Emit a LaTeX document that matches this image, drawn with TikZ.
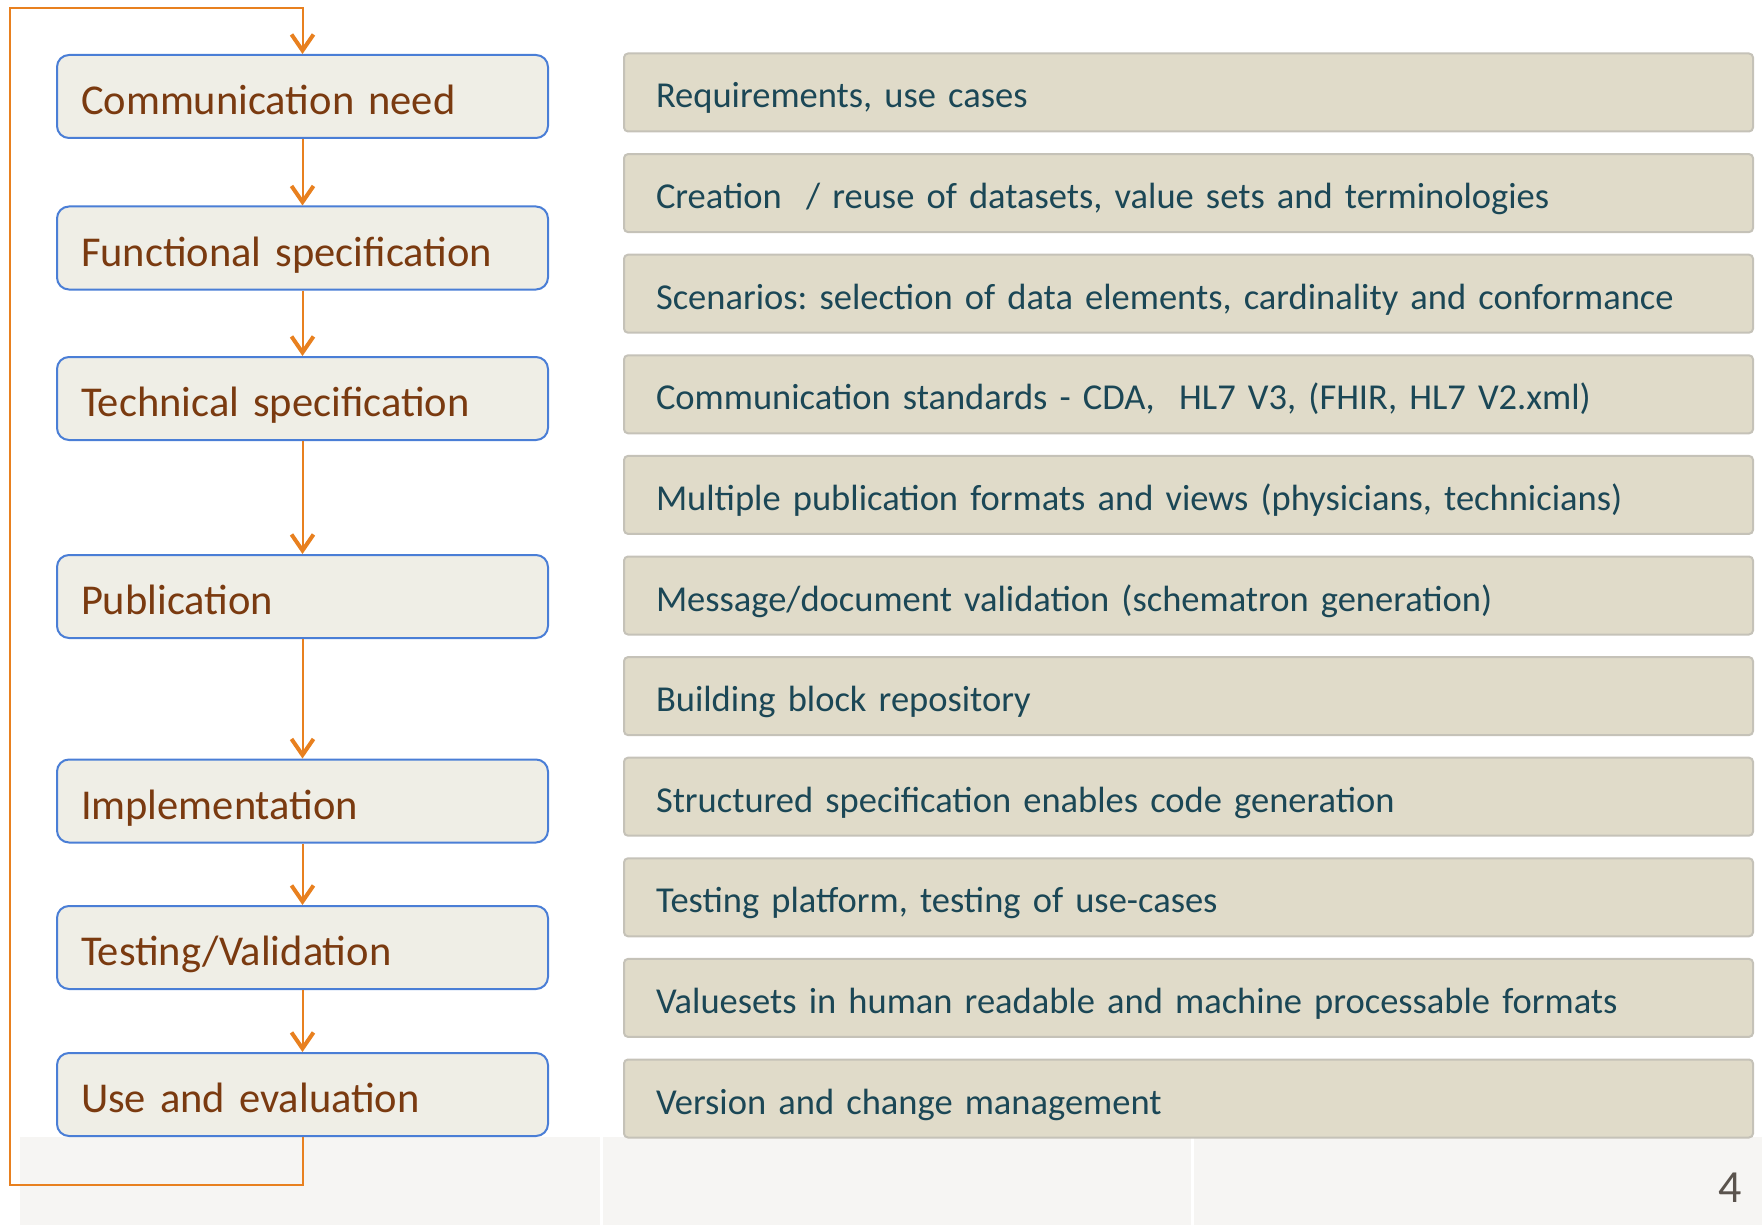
\documentclass[tikz,border=0pt]{standalone}
\usepackage{fontspec}
\usepackage{tikz}
\usepackage{xcolor}
\usetikzlibrary{arrows.meta}
\setmainfont{Carlito}
\frenchspacing

\definecolor{stagefill}{HTML}{EFEEE6}
\definecolor{stageline}{HTML}{4A7ED6}
\definecolor{stagetext}{HTML}{7A3A10}
\definecolor{taskfill}{HTML}{E0DBC9}
\definecolor{taskline}{HTML}{C5C2B8}
\definecolor{tasktext}{HTML}{1B4756}
\definecolor{flowcol}{HTML}{E8801F}
\definecolor{footfill}{HTML}{F6F5F3}
\definecolor{pagetext}{HTML}{5A534D}

\begin{document}
\begin{tikzpicture}[
    x=1pt, y=-1pt,
    stage/.style={rectangle, rounded corners=12pt, draw=stageline, line width=2pt, fill=stagefill,
        minimum width=491pt, minimum height=83pt, inner xsep=24pt, text width=443pt, align=left,
        text height=36pt, text depth=0pt, text=stagetext, font=\fontsize{42.5}{50}\selectfont},
    task/.style={rectangle, rounded corners=4pt, draw=taskline, line width=2pt, fill=taskfill,
        minimum width=1129pt, minimum height=78pt, inner xsep=32pt, text width=1065pt, align=left,
        text height=31pt, text depth=0pt, text=tasktext, font=\fontsize{36.5}{44}\selectfont},
    flow/.style={draw=flowcol, line width=2pt, -{Straight Barb[length=16pt, width=22pt, line width=4pt]}}
]
    \useasboundingbox (0,0) rectangle (1762,1225);

    % Footer band
    \fill[footfill] (20,1137) rectangle (600,1225);
    \fill[footfill] (603,1137) rectangle (1191,1225);
    \fill[footfill] (1194,1137) rectangle (1762,1225);
    \node[text=pagetext, font=\fontsize{46}{52}\selectfont] (pagenum) at (1730,1188) {4};

    % Process stages (left)
    \node[stage] (need) at (302.5,96.5) {Communication need};
    \node[stage] (func) at (302.5,248) {Functional specification};
    \node[stage] (tech) at (302.5,398.5) {Technical specification};
    \node[stage] (publ) at (302.5,596.5) {Publication};
    \node[stage] (impl) at (302.5,801) {Implementation};
    \node[stage] (test) at (302.5,947.5) {Testing/Validation};
    \node[stage] (use) at (302.5,1094.5) {Use and evaluation};

    % Supported tasks (right)
    \node[task] (req) at (1188.5,92.5) {Requirements, use cases};
    \node[task] (data) at (1188.5,193.1) {Creation~ / reuse of datasets, value sets and terminologies};
    \node[task] (scen) at (1188.5,293.7) {Scenarios: selection of data elements, cardinality and conformance};
    \node[task] (comm) at (1188.5,394.3) {Communication standards - CDA,~ HL7 V3, (FHIR, HL7 V2.xml)};
    \node[task] (form) at (1188.5,494.9) {Multiple publication formats and views (physicians, technicians)};
    \node[task] (valid) at (1188.5,595.5) {Message/document validation (schematron generation)};
    \node[task] (repo) at (1188.5,696.1) {Building block repository};
    \node[task] (code) at (1188.5,796.7) {Structured specification enables code generation};
    \node[task] (plat) at (1188.5,897.3) {Testing platform, testing of use-cases};
    \node[task] (vset) at (1188.5,997.9) {Valuesets in human readable and machine processable formats};
    \node[task] (vers) at (1188.5,1098.5) {Version and change management};

    % Flow between stages
    \draw[flow] (need) -- (func);
    \draw[flow] (func) -- (tech);
    \draw[flow] (tech) -- (publ);
    \draw[flow] (publ) -- (impl);
    \draw[flow] (impl) -- (test);
    \draw[flow] (test) -- (use);

    % Feedback loop
    \coordinate (loopbot) at (10,1185);
    \coordinate (looptop) at (10,8);
    \draw[flow] (use.south) |- (loopbot) -- (looptop) -| (need.north);
\end{tikzpicture}
\end{document}
